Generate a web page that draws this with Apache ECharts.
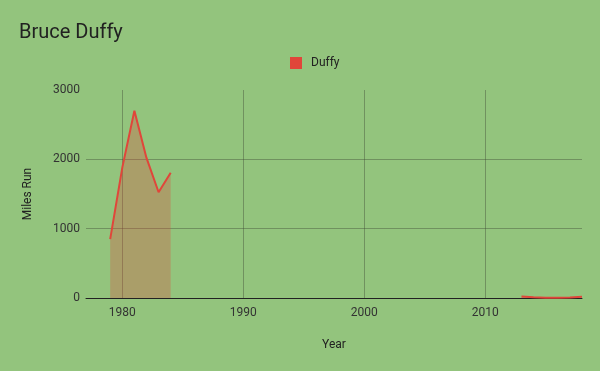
<!DOCTYPE html>
<html>
<head>
<meta charset="utf-8">
<script src="https://cdn.jsdelivr.net/npm/echarts@6/dist/echarts.min.js"></script>
<style>html,body{margin:0;padding:0;background:#93c47d;}#c{width:600px;height:371px;}</style>
</head>
<body>
<div id="c"></div>
<script>
const years = [1979, 1980, 1981, 1982, 1983, 1984, null, 2013, 2014, 2015, 2016, 2017, 2018];
const miles = [850, 1880, 2700, 2020, 1525, 1807, null, 20, 10, 5, 5, 8, 18];
const xTicks = [1980, 1990, 2000, 2010];
const yTicks = [0, 1000, 2000, 3000];

const data = years.map((y, i) => (y === null ? [1998, '-'] : [y, miles[i]]));
const gridColor = 'rgba(60,70,50,0.4)';

const chart = echarts.init(document.getElementById('c'));
chart.setOption({
  backgroundColor: '#93c47d',
  textStyle: { fontFamily: 'Roboto' },
  title: {
    text: 'Bruce Duffy', left: 14, top: 18,
    textStyle: { fontFamily: 'Roboto', fontSize: 20, fontWeight: 'normal', color: '#212121' }
  },
  legend: {
    top: 52, left: 285, itemWidth: 12, itemHeight: 12, icon: 'rect',
    textStyle: { fontFamily: 'Roboto', fontSize: 12, color: '#222', padding: [0, 0, 0, 4] },
    data: ['Duffy']
  },
  grid: { left: 86, right: 18, top: 90, bottom: 73, containLabel: false },
  xAxis: {
    type: 'value', min: 1977, max: 2018,
    name: 'Year', nameLocation: 'middle', nameGap: 41,
    nameTextStyle: { fontFamily: 'Roboto', fontSize: 12, color: '#222' },
    axisLine: { onZero: true, lineStyle: { color: '#222', width: 1 } },
    axisTick: { show: false, customValues: xTicks },
    axisLabel: { customValues: xTicks, formatter: v => String(v), fontFamily: 'Roboto', fontSize: 12, color: '#333', margin: 9 },
    splitLine: { show: false }
  },
  yAxis: {
    type: 'value', min: yTicks[0], max: yTicks[yTicks.length - 1], interval: 1000,
    name: 'Miles Run', nameLocation: 'middle', nameGap: 52, nameRotate: 90,
    nameTextStyle: { fontFamily: 'Roboto', fontSize: 12, color: '#222' },
    axisLine: { show: false }, axisTick: { show: false },
    axisLabel: { formatter: v => String(v), fontFamily: 'Roboto', fontSize: 12, color: '#333', margin: 6 },
    splitLine: { show: true, showMaxLine: false, lineStyle: { color: gridColor, width: 1 } }
  },
  series: [{
    name: 'Duffy', type: 'line', data: data, showSymbol: false, symbol: 'none',
    connectNulls: false, z: 3,
    itemStyle: { color: '#e0463a' },
    lineStyle: { color: '#e0463a', width: 2 },
    areaStyle: { color: '#e0463a', opacity: 0.3 },
    markLine: {
      silent: true, symbol: 'none', animation: false, z: 1,
      label: { show: false },
      lineStyle: { color: gridColor, width: 1, type: 'solid' },
      data: xTicks.map(x => ({ xAxis: x }))
    }
  }]
});
</script>
</body>
</html>
